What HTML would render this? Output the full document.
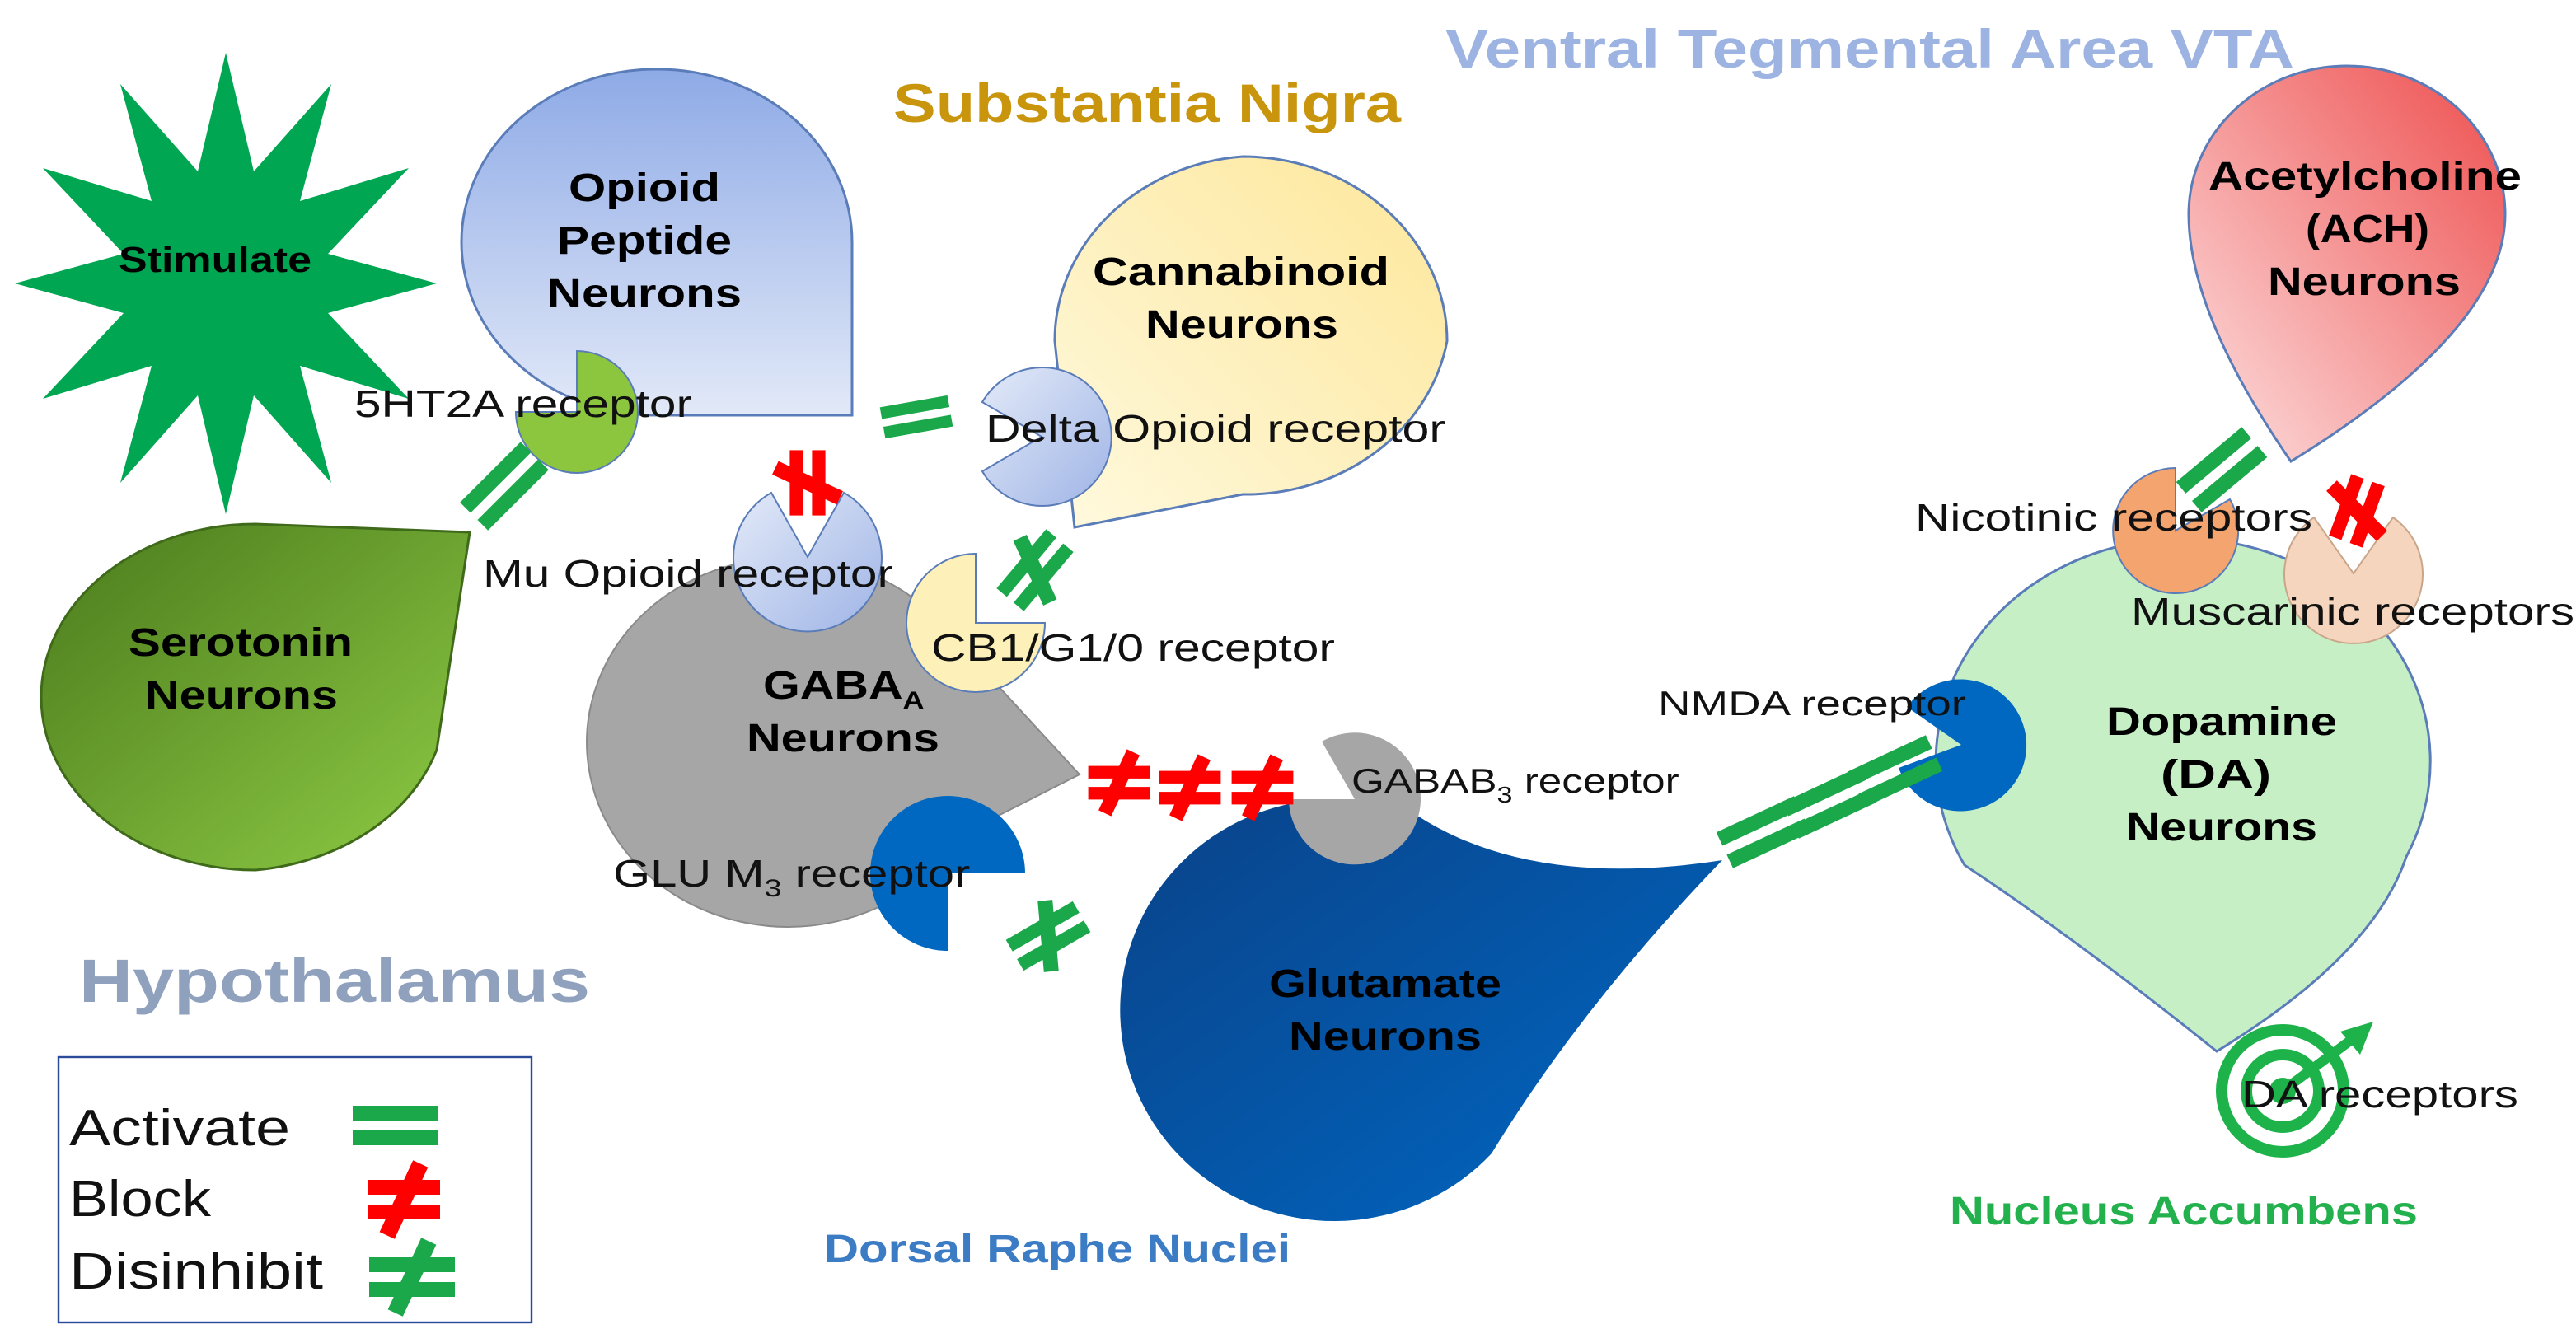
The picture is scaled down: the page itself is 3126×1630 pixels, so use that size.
<!DOCTYPE html>
<html><head><meta charset="utf-8"><style>
html,body{margin:0;padding:0;background:#fff;}
svg{display:block;}
text{font-family:"Liberation Sans",Arial,sans-serif;}
.b{font-weight:bold;}
</style></head><body>
<svg width="3126" height="1630" viewBox="0 0 1563 815" xmlns="http://www.w3.org/2000/svg">
<defs>
<linearGradient id="gOp" x1="0" y1="0" x2="0" y2="1"><stop offset="0" stop-color="#8eaae6"/><stop offset="1" stop-color="#e2e9f8"/></linearGradient>
<linearGradient id="gCb" x1="1" y1="0" x2="0" y2="1"><stop offset="0" stop-color="#fde79a"/><stop offset="1" stop-color="#fff9de"/></linearGradient>
<linearGradient id="gAc" x1="1" y1="0" x2="0" y2="1"><stop offset="0" stop-color="#ee4d4d"/><stop offset="1" stop-color="#fde2e2"/></linearGradient>
<linearGradient id="gSe" x1="0" y1="0" x2="1" y2="1"><stop offset="0" stop-color="#4a7a1c"/><stop offset="1" stop-color="#8fcc45"/></linearGradient>
<linearGradient id="gGl" x1="0" y1="0" x2="1" y2="1"><stop offset="0" stop-color="#0a4288"/><stop offset="1" stop-color="#0068c4"/></linearGradient>
<linearGradient id="gRc" x1="0" y1="0" x2="1" y2="1"><stop offset="0" stop-color="#e3eaf8"/><stop offset="1" stop-color="#9fb4e6"/></linearGradient>
<g id="eq"><rect x="-26" y="-12" width="52" height="9" fill="#1aa84b"/><rect x="-26" y="3" width="52" height="9" fill="#1aa84b"/></g>
<g id="neqG"><use href="#eq"/><rect x="-5" y="-24" width="10" height="48" fill="#1aa84b" transform="rotate(25)"/></g>
<g id="neqR"><rect x="-22" y="-12" width="44" height="9" fill="#ff0000"/><rect x="-22" y="3" width="44" height="9" fill="#ff0000"/><rect x="-5" y="-24" width="10" height="48" fill="#ff0000" transform="rotate(25)"/></g>
</defs>

<polygon fill="#00a651" points="137,32 154,104 201,51 182,122 248,102 199,154 265,172 199,190 248,242 182,222 201,293 154,240 137,312 120,240 73,293 92,222 26,242 75,190 9,172 75,154 26,102 92,122 73,51 120,104"/>
<text x="72" y="165" class="b" font-size="22" textLength="117" lengthAdjust="spacingAndGlyphs">Stimulate</text>

<path d="M517,252 L517,147 A118,105 0 0 0 398,42 A118,105 0 0 0 280,147 A118,105 0 0 0 398,252 Z" fill="url(#gOp)" stroke="#5a7cb8" stroke-width="1.5"/>
<g class="b" font-size="24">
<text x="345" y="122" class="b" textLength="92" lengthAdjust="spacingAndGlyphs">Opioid</text>
<text x="338" y="154" class="b" textLength="106" lengthAdjust="spacingAndGlyphs">Peptide</text>
<text x="332" y="186" class="b" textLength="118" lengthAdjust="spacingAndGlyphs">Neurons</text>
</g>

<path d="M652,320 L640,207 A124,112 0 0 1 754,95 A124,112 0 0 1 878,207 A124,112 0 0 1 754,300 Z" fill="url(#gCb)" stroke="#5a7cb8" stroke-width="1.5"/>
<g class="b" font-size="24">
<text x="663" y="173" class="b" textLength="180" lengthAdjust="spacingAndGlyphs">Cannabinoid</text>
<text x="695" y="205" class="b" textLength="117" lengthAdjust="spacingAndGlyphs">Neurons</text>
</g>

<path d="M1390,280 Q1520,200 1520,130 A96,90 0 0 0 1424,40 A96,90 0 0 0 1328,130 Q1328,190 1390,280 Z" fill="url(#gAc)" stroke="#5a7cb8" stroke-width="1.5"/>
<g class="b" font-size="24">
<text x="1340" y="115" class="b" textLength="190" lengthAdjust="spacingAndGlyphs">Acetylcholine</text>
<text x="1399" y="147" class="b" textLength="75" lengthAdjust="spacingAndGlyphs">(ACH)</text>
<text x="1376" y="179" class="b" textLength="117" lengthAdjust="spacingAndGlyphs">Neurons</text>
</g>

<path d="M285,323 L155,318 A130,105 0 0 0 25,423 A130,105 0 0 0 155,528 A130,105 0 0 0 265,455 Z" fill="url(#gSe)" stroke="#3f6a1a" stroke-width="1.5"/>
<g class="b" font-size="24">
<text x="78" y="398" class="b" textLength="136" lengthAdjust="spacingAndGlyphs">Serotonin</text>
<text x="88" y="430" class="b" textLength="117" lengthAdjust="spacingAndGlyphs">Neurons</text>
</g>

<path d="M655,470 L564,371 A122,112 0 1 0 584,506 Z" fill="#a6a6a6" stroke="#8a8a8a" stroke-width="1"/>
<g transform="translate(463,424) scale(1.2,1)"><text class="b" font-size="24">GABA<tspan font-size="15" dy="6">A</tspan></text></g>
<text x="453" y="456" class="b" font-size="24" textLength="117" lengthAdjust="spacingAndGlyphs">Neurons</text>

<path d="M1045,522 Q930,540 860,495 A130,128 0 1 0 905,700 Q960,610 1045,522 Z" fill="url(#gGl)"/>
<text x="770" y="605" class="b" font-size="24" textLength="141" lengthAdjust="spacingAndGlyphs">Glutamate</text>
<text x="782" y="637" class="b" font-size="24" textLength="117" lengthAdjust="spacingAndGlyphs">Neurons</text>

<path d="M1345,638 Q1260,570 1192,525 A150,135 0 1 1 1460,520 Q1440,580 1345,638 Z" fill="#c6efc6" stroke="#5a7cb8" stroke-width="1.5"/>
<text x="1278" y="446" class="b" font-size="24" textLength="140" lengthAdjust="spacingAndGlyphs">Dopamine</text>
<text x="1311" y="478" class="b" font-size="24" textLength="67" lengthAdjust="spacingAndGlyphs">(DA)</text>
<text x="1290" y="510" class="b" font-size="24" textLength="116" lengthAdjust="spacingAndGlyphs">Neurons</text>

<path d="M350,250 L350,213 A37,37 0 1 1 313,250 Z" fill="#8cc63f" stroke="#5a7cb8" stroke-width="1"/>
<path d="M632,265 L596,244 A42,42 0 1 1 596,286 Z" fill="url(#gRc)" stroke="#5a7cb8" stroke-width="1"/>
<path d="M490,338 L512,299 A45,45 0 1 1 468,299 Z" fill="url(#gRc)" stroke="#5a7cb8" stroke-width="1"/>
<path d="M592,378 L634,378 A42,42 0 1 1 592,336 Z" fill="#fdf0b8" stroke="#5a7cb8" stroke-width="1"/>
<path d="M575,530 L575,577 A47,47 0 1 1 622,530 Z" fill="#0068c0"/>
<path d="M822,485 L802,450 A40,40 0 1 1 782,485 Z" fill="#a6a6a6"/>
<path d="M1190,452 L1157,429 A40,40 0 1 1 1152,466 Z" fill="#0068c0"/>
<path d="M1320,322 L1353,303 A38,38 0 1 1 1320,284 Z" fill="#f4a46e" stroke="#5a7cb8" stroke-width="1"/>
<path d="M1428,348 L1452,314 A42,42 0 1 1 1404,314 Z" fill="#f5d5bd" stroke="#c9a58a" stroke-width="1"/>

<g fill="none" stroke="#1db34a" stroke-width="7">
<circle cx="1385" cy="662" r="37"/><circle cx="1385" cy="662" r="22"/></g>
<circle cx="1385" cy="662" r="8" fill="#1db34a"/>
<line x1="1385" y1="662" x2="1428" y2="630" stroke="#1db34a" stroke-width="6"/>
<polygon points="1440,620 1420,626 1432,640" fill="#1db34a"/>

<use href="#eq" transform="translate(306,295) rotate(-45)"/>
<use href="#eq" transform="translate(556,253) rotate(-10) scale(0.8)"/>
<use href="#neqR" transform="translate(490,293) rotate(90) scale(0.9)"/>
<use href="#neqG" transform="translate(628,346) rotate(-50) scale(0.9)"/>
<use href="#neqR" transform="translate(679,475) scale(0.85)"/>
<use href="#neqR" transform="translate(722,478) scale(0.85)"/>
<use href="#neqR" transform="translate(766,478) scale(0.85)"/>
<use href="#neqG" transform="translate(636,568) rotate(-30) scale(0.9)"/>
<use href="#eq" transform="translate(1070,505) rotate(-25)"/>
<use href="#eq" transform="translate(1110,487) rotate(-25)"/>
<use href="#eq" transform="translate(1150,468) rotate(-25)"/>
<use href="#eq" transform="translate(1348,285) rotate(-40)"/>
<use href="#neqR" transform="translate(1430,310) rotate(-70) scale(0.9)"/>

<g font-size="23" fill="#111">
<text x="215" y="253" textLength="205" lengthAdjust="spacingAndGlyphs">5HT2A  receptor</text>
<text x="598" y="268" textLength="279" lengthAdjust="spacingAndGlyphs">Delta Opioid receptor</text>
<text x="293" y="356" textLength="249" lengthAdjust="spacingAndGlyphs">Mu Opioid receptor</text>
<text x="565" y="401" textLength="245" lengthAdjust="spacingAndGlyphs">CB1/G1/0 receptor</text>
<text x="1162" y="322" textLength="241" lengthAdjust="spacingAndGlyphs">Nicotinic receptors</text>
<text x="1293" y="379" textLength="269" lengthAdjust="spacingAndGlyphs">Muscarinic receptors</text>
<text x="1360" y="672" textLength="168" lengthAdjust="spacingAndGlyphs">DA receptors</text>
<text x="1006" y="434" font-size="21" textLength="187" lengthAdjust="spacingAndGlyphs">NMDA receptor</text>
</g>
<g transform="translate(372,538) scale(1.26,1)"><text font-size="23" fill="#111">GLU M<tspan font-size="15" dy="6">3</tspan><tspan dy="-6"> receptor</tspan></text></g>
<g transform="translate(820,481) scale(1.22,1)"><text font-size="21" fill="#111">GABAB<tspan font-size="14" dy="6">3</tspan><tspan dy="-6"> receptor</tspan></text></g>

<text x="877" y="41" class="b" font-size="33" fill="#9db3e2" textLength="515" lengthAdjust="spacingAndGlyphs">Ventral Tegmental Area VTA</text>
<text x="542" y="74" class="b" font-size="33" fill="#c8950d" textLength="308" lengthAdjust="spacingAndGlyphs">Substantia Nigra</text>
<text x="48" y="608" class="b" font-size="37" fill="#8fa1bd" textLength="310" lengthAdjust="spacingAndGlyphs">Hypothalamus</text>
<text x="500" y="766" class="b" font-size="24" fill="#3b7cc4" textLength="283" lengthAdjust="spacingAndGlyphs">Dorsal Raphe Nuclei</text>
<text x="1183" y="743" class="b" font-size="24" fill="#22b14c" textLength="284" lengthAdjust="spacingAndGlyphs">Nucleus Accumbens</text>

<rect x="35.5" y="641.5" width="287" height="161" fill="#fff" stroke="#2a4a9a" stroke-width="1.2"/>
<g font-size="31" fill="#111">
<text x="42" y="695" textLength="134" lengthAdjust="spacingAndGlyphs">Activate</text>
<text x="42" y="738" textLength="86" lengthAdjust="spacingAndGlyphs">Block</text>
<text x="42" y="782" textLength="154" lengthAdjust="spacingAndGlyphs">Disinhibit</text>
</g>
<use href="#eq" transform="translate(240,683)"/>
<use href="#neqR" transform="translate(245,728)"/>
<use href="#neqG" transform="translate(250,775)"/>
</svg>
</body></html>
